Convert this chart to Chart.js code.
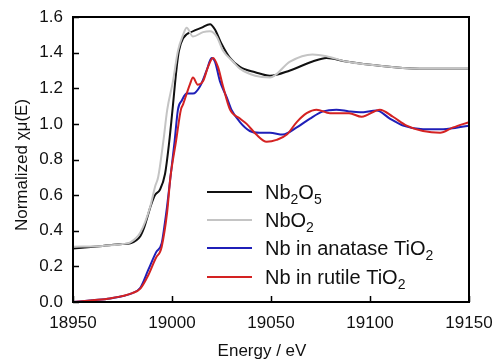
<!DOCTYPE html>
<html><head><meta charset="utf-8">
<script src="https://cdn.jsdelivr.net/npm/chart.js@4/dist/chart.umd.min.js"></script>
<style>html,body{margin:0;padding:0;background:#fff}</style>
</head><body>
<canvas id="c" width="497" height="359"></canvas>
<script>
const xTicks = [18950, 19000, 19050, 19100, 19150];
const yTicks = [0, 0.2, 0.4, 0.6, 0.8, 1.0, 1.2, 1.4, 1.6];

const nb2o5E = [18950,18965,18975,18979,18984,18986,18989,18991.4,18993.9,18996.5,18998.6,19000,19002.4,19003.5,19005.6,19010.6,19015,19019.2,19021.7,19025,19029.3,19034.3,19042,19049.5,19059.6,19071,19078,19088,19101.5,19125,19150];
const nb2o5Y = [0.30,0.315,0.325,0.33,0.37,0.42,0.53,0.60,0.63,0.72,0.90,1.05,1.32,1.41,1.48,1.52,1.54,1.56,1.53,1.45,1.37,1.32,1.29,1.27,1.30,1.35,1.37,1.35,1.33,1.31,1.31];

const nbo2E = [18950,18965,18975,18979,18984,18989,18991.5,18993,18995.6,18997.6,19000.5,19003,19005.6,19007.4,19010.6,19015.7,19019.2,19022.6,19025.8,19030.8,19034.3,19042,19049.5,19059.6,19071,19078,19088,19101.5,19125,19150];
const nbo2Y = [0.31,0.315,0.325,0.335,0.39,0.535,0.65,0.70,0.90,1.08,1.24,1.41,1.50,1.54,1.49,1.515,1.52,1.49,1.41,1.35,1.31,1.27,1.26,1.35,1.39,1.38,1.35,1.33,1.31,1.31];

const anataseE = [18950,18960,18968.7,18980,18984,18988,18992,18994.8,18996.1,18997.5,18999.2,19001.3,19003,19004.9,19007.4,19010.6,19014.1,19017.5,19020,19021.7,19024.2,19027.6,19030,19034.3,19039.3,19044.3,19049.5,19056,19063,19069.7,19076.3,19083,19089.4,19095,19103.4,19110,19116.7,19126.8,19137,19150];
const anataseY = [0.0,0.01,0.02,0.05,0.08,0.18,0.28,0.33,0.42,0.535,0.70,0.90,1.08,1.13,1.17,1.17,1.21,1.30,1.37,1.35,1.24,1.15,1.08,1.01,0.96,0.95,0.95,0.94,0.98,1.03,1.07,1.08,1.07,1.065,1.075,1.03,0.99,0.97,0.97,0.99];

const rutileE = [18950,18960,18968.7,18980,18984,18988,18992,18993.9,18994.8,18997.5,18999.2,19002,19004.5,19005.6,19009,19010.6,19013,19015.7,19018.2,19020.7,19023.2,19025.8,19029.3,19034.3,19037.7,19042.6,19047.8,19052.8,19058,19063,19068,19073,19079.8,19089.4,19095.8,19105,19111.6,19118.5,19126.8,19135.4,19142,19150];
const rutileY = [0.0,0.01,0.02,0.05,0.075,0.15,0.25,0.28,0.31,0.50,0.70,0.90,1.08,1.11,1.22,1.26,1.22,1.24,1.32,1.37,1.32,1.21,1.08,1.03,1.00,0.94,0.90,0.91,0.94,1.01,1.06,1.08,1.06,1.06,1.04,1.08,1.04,0.99,0.96,0.95,0.98,1.01];

const legendParts = [
  [["Nb",0],["2",1],["O",0],["5",1]],
  [["NbO",0],["2",1]],
  [["Nb in anatase TiO",0],["2",1]],
  [["Nb in rutile TiO",0],["2",1]]
];
const colors = ["#111111", "#c4c4c4", "#1f1fb8", "#d42222"];

function pts(E, Y) { return E.map((e, i) => ({x: e, y: Y[i]})); }

const FONT = "'Liberation Sans', Arial, sans-serif";

const framePlugin = {
  id: 'frame',
  afterDraw(chart) {
    const ctx = chart.ctx, a = chart.chartArea;
    const xs = chart.scales.x, ys = chart.scales.y;
    ctx.save();
    ctx.strokeStyle = '#000';
    ctx.lineWidth = 2;
    ctx.strokeRect(a.left, a.top, a.right - a.left, a.bottom - a.top);
    ctx.lineWidth = 1.5;
    ctx.beginPath();
    xTicks.forEach(v => { const px = Math.round(xs.getPixelForValue(v)) + 0.5; ctx.moveTo(px, a.bottom); ctx.lineTo(px, a.bottom - 6); });
    yTicks.forEach(v => { const py = Math.round(ys.getPixelForValue(v)) + 0.5; ctx.moveTo(a.left, py); ctx.lineTo(a.left + 6, py); });
    ctx.stroke();

    // legend
    const rows = [192, 220, 248, 277];
    legendParts.forEach((parts, i) => {
      const y = rows[i];
      ctx.strokeStyle = colors[i];
      ctx.lineWidth = 2;
      ctx.beginPath(); ctx.moveTo(207, y); ctx.lineTo(252, y); ctx.stroke();
      let x = 265;
      ctx.fillStyle = '#111';
      ctx.textBaseline = 'alphabetic';
      parts.forEach(([t, sub]) => {
        ctx.font = (sub ? '14px ' : '20px ') + FONT;
        ctx.fillText(t, x, y + 7 + (sub ? 5 : 0));
        x += ctx.measureText(t).width;
      });
    });

    // axis titles
    ctx.fillStyle = '#111';
    ctx.font = '17px ' + FONT;
    ctx.textAlign = 'center';
    ctx.textBaseline = 'middle';
    ctx.fillText('Energy / eV', 262, 351);
    ctx.save();
    ctx.translate(22, 165);
    ctx.rotate(-Math.PI / 2);
    ctx.fillText('Normalized \u03C7\u03BC(E)', 0, 0);
    ctx.restore();
    ctx.restore();
  }
};

const ds = (label, E, Y, c) => ({
  label, data: pts(E, Y), borderColor: c, backgroundColor: c,
  borderWidth: 2, pointRadius: 0, fill: false,
  tension: 0.4, cubicInterpolationMode: 'monotone'
});

new Chart(document.getElementById('c'), {
  type: 'line',
  data: {
    datasets: [
      ds('Nb2O5', nb2o5E, nb2o5Y, colors[0]),
      ds('NbO2', nbo2E, nbo2Y, colors[1]),
      ds('Nb in anatase TiO2', anataseE, anataseY, colors[2]),
      ds('Nb in rutile TiO2', rutileE, rutileY, colors[3])
    ].reverse()
  },
  options: {
    responsive: false,
    animation: false,
    devicePixelRatio: 1,
    layout: { padding: { top: 17, right: 28, left: 0, bottom: 0 } },
    plugins: { legend: { display: false }, tooltip: { enabled: false } },
    scales: {
      x: {
        type: 'linear', min: 18950, max: 19150,
        afterBuildTicks: s => { s.ticks = xTicks.map(v => ({value: v})); },
        afterFit: s => { s.height = 57; s.paddingLeft = 0; s.paddingRight = 0; },
        grid: { display: false, drawTicks: false },
        border: { display: false },
        ticks: { font: { size: 17, family: FONT }, color: '#111', padding: 11, maxRotation: 0, callback: v => String(v) }
      },
      y: {
        type: 'linear', min: 0, max: 1.6,
        afterBuildTicks: s => { s.ticks = yTicks.map(v => ({value: v})); },
        afterFit: s => { s.width = 73; s.paddingTop = 0; s.paddingBottom = 0; },
        grid: { display: false, drawTicks: false },
        border: { display: false },
        ticks: { font: { size: 17, family: FONT }, color: '#111', padding: 10, callback: v => Number(v).toFixed(1) }
      }
    }
  },
  plugins: [framePlugin]
});
</script>
</body></html>
